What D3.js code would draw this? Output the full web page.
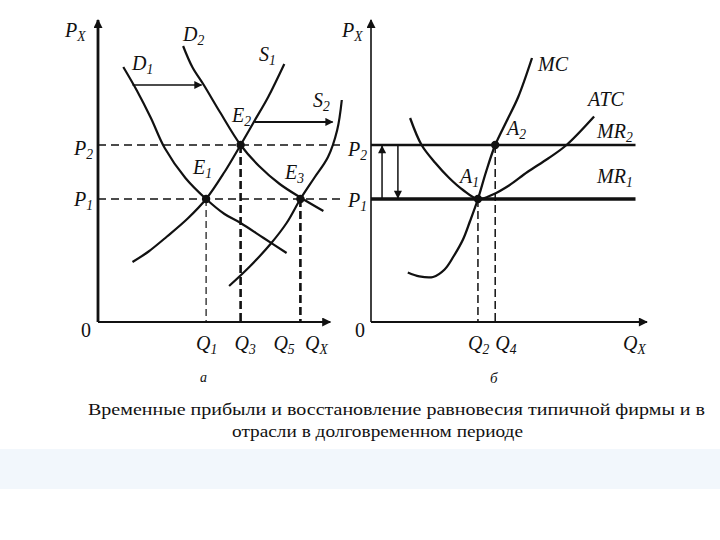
<!DOCTYPE html>
<html><head><meta charset="utf-8">
<script src="https://cdn.jsdelivr.net/npm/d3@7"></script>
<style>
body{margin:0;background:#fff;}
svg{display:block;}
svg text{font-family:'Liberation Serif','Times New Roman',Times,Tinos,'DejaVu Serif','Noto Serif',serif;}
</style></head>
<body>
<svg id="c" width="720" height="540"></svg>
<script>
// ---------- DATA ----------
// Panel "а": industry (market) – quantity Q (0..100), price P (0..100)
const priceLevels = [41, 59];                 // P1, P2
const priceNames = [["P","1"],["P","2"]];
const leftQ = [47, 62, 88];                   // Q1, Q3, Q5
const leftQNames = [["Q","1"],["Q","3"],["Q","5"]];
const leftQLabelShift = [-10, -6, -27];
const leftQDashStyle = ["thin","thick","thick"];
const leftQTop = [41, 59, 41];
const D1 = [[11,85],[17,77],[23,68],[29,58],[38,48],[47,41],[55,36],[62,33],[72,28],[82,23]];
const D2 = [[37,92],[41,85],[46,79],[53,70],[62,59],[70,52],[79,46],[88,41.5],[98,37]];
const S1 = [[15,20],[22,23.5],[30,28.5],[39,34.5],[47,41],[55,50],[62,59],[68,67],[74,75],[81,86]];
const S2 = [[57,12],[66,18.5],[75,26],[82,33],[88,41],[94,48],[100,55],[104,64],[106,74]];
const leftPoints = [[47,41],[62,59],[88,41]]; // E1, E2, E3
const shiftArrows = [[[15,79],[45,79]],[[68,66.7],[102,66.7]]];

// Panel "б": firm
const rightQ = [46.5, 54];                    // Q2, Q4
const rightQNames = [["Q","2"],["Q","4"]];
const rightQLabelShift = [-10, 0];
const rightQTop = [41, 59];
const MC = [[16,16.5],[21,15.2],[27,15],[32,17.5],[36,22],[40,27.5],[43,33.5],[46.5,41],[50,50],[54,59],[59,67],[64,75],[70,88]];
const ATC = [[17,68],[22,59],[28,53],[34,48],[40,44],[46.5,41],[53,42.5],[60,45.5],[68,50],[77,54.5],[85,59],[97,68.5]];
const rightPoints = [[46.5,41],[54,59]];       // A1, A2
const MRend = 115;

const caption = ["Временные прибыли и восстановление равновесия типичной фирмы и в",
                 "отрасли в долговременном периоде"];

// ---------- SCALES ----------
const svg = d3.select("#c");
svg.append("rect").attr("x",0).attr("y",449).attr("width",720).attr("height",40).attr("fill","#f2f7fc");

const y = d3.scaleLinear().domain([0,100]).range([322,22]);
const xL = d3.scaleLinear().domain([0,100]).range([98,328]);
const xR = d3.scaleLinear().domain([0,100]).range([371,601]);

const defs = svg.append("defs");
function marker(id, w, h){
  defs.append("marker").attr("id",id).attr("viewBox","0 0 10 10").attr("refX",9).attr("refY",5)
    .attr("markerWidth",w).attr("markerHeight",h).attr("markerUnits","userSpaceOnUse").attr("orient","auto")
    .append("path").attr("d","M0,0L10,5L0,10Z").attr("fill","#111");
}
marker("ah",14,9);
marker("ahs",12,8);

const curve = d3.line().curve(d3.curveCatmullRom.alpha(0.5));

function label(x, yy, main, sub, size, italic=true){
  const t = svg.append("text").attr("x",x).attr("y",yy).attr("font-size",size).attr("fill","#111")
    .attr("font-style", italic?"italic":"normal");
  t.append("tspan").text(main);
  if(sub) t.append("tspan").attr("font-size",size*0.68).attr("dy",4).text(sub);
  return t;
}

// ---------- AXES ----------
function panel(x, qMax, axisW){
  svg.append("line").attr("x1",x(0)).attr("x2",x(0)).attr("y1",y(0)).attr("y2",y(100)-2)
    .attr("stroke","#111").attr("stroke-width",axisW).attr("marker-end","url(#ah)");
  svg.append("line").attr("x1",x(0)).attr("x2",x(qMax)).attr("y1",y(0)).attr("y2",y(0))
    .attr("stroke","#111").attr("stroke-width",1.8).attr("marker-end","url(#ah)");
}
panel(xL, 101, 2.8);
panel(xR, 120, 1.6);

// ---------- LEFT PANEL ----------
priceLevels.forEach(p=>{
  svg.append("line").attr("x1",xL(0)).attr("x2",xL(107)).attr("y1",y(p)).attr("y2",y(p))
    .attr("stroke","#111").attr("stroke-width",1.4).attr("stroke-dasharray","8,5");
});
leftQ.forEach((q,i)=>{
  const thick = leftQDashStyle[i]==="thick";
  svg.append("line").attr("x1",xL(q)).attr("x2",xL(q)).attr("y1",y(leftQTop[i])).attr("y2",y(0))
    .attr("stroke","#111").attr("stroke-width",thick?2.6:1.2).attr("stroke-dasharray",thick?"8,4":"7,4");
});
[D1,D2,S1,S2].forEach(d=>{
  svg.append("path").attr("d",curve(d.map(p=>[xL(p[0]),y(p[1])])))
    .attr("fill","none").attr("stroke","#111").attr("stroke-width",2.2);
});
shiftArrows.forEach((a,i)=>{
  svg.append("line").attr("x1",xL(a[0][0])).attr("y1",y(a[0][1])).attr("x2",xL(a[1][0])).attr("y2",y(a[1][1]))
    .attr("stroke","#111").attr("stroke-width",i?2:1.3).attr("marker-end","url(#ahs)");
});
leftPoints.forEach(p=>svg.append("circle").attr("cx",xL(p[0])).attr("cy",y(p[1])).attr("r",4.2).attr("fill","#111"));

// ---------- RIGHT PANEL ----------
svg.append("line").attr("x1",xR(0)).attr("x2",xR(MRend)).attr("y1",y(priceLevels[1])).attr("y2",y(priceLevels[1]))
  .attr("stroke","#111").attr("stroke-width",2.4);
svg.append("line").attr("x1",xR(0)).attr("x2",xR(MRend)).attr("y1",y(priceLevels[0])).attr("y2",y(priceLevels[0]))
  .attr("stroke","#111").attr("stroke-width",3.6);
rightQ.forEach((q,i)=>{
  svg.append("line").attr("x1",xR(q)).attr("x2",xR(q)).attr("y1",y(rightQTop[i])).attr("y2",y(0))
    .attr("stroke","#111").attr("stroke-width",1.5).attr("stroke-dasharray","8,4");
});
[MC,ATC].forEach(d=>{
  svg.append("path").attr("d",curve(d.map(p=>[xR(p[0]),y(p[1])])))
    .attr("fill","none").attr("stroke","#111").attr("stroke-width",2.3);
});
svg.append("line").attr("x1",xR(4.8)).attr("x2",xR(4.8)).attr("y1",y(priceLevels[0])).attr("y2",y(priceLevels[1])+1)
  .attr("stroke","#111").attr("stroke-width",1.5).attr("marker-end","url(#ahs)");
svg.append("line").attr("x1",xR(11.7)).attr("x2",xR(11.7)).attr("y1",y(priceLevels[1])).attr("y2",y(priceLevels[0])-1)
  .attr("stroke","#111").attr("stroke-width",1.5).attr("marker-end","url(#ahs)");
rightPoints.forEach(p=>svg.append("circle").attr("cx",xR(p[0])).attr("cy",y(p[1])).attr("r",4.2).attr("fill","#111"));

// ---------- LABELS ----------
const fs = 20;
label(65,37,"P","X",fs);
label(183,41,"D","2",fs);
label(132,70,"D","1",fs);
label(259,61,"S","1",fs);
label(313,107,"S","2",fs);
label(232,122,"E","2",fs);
label(193,174,"E","1",fs);
label(285,179,"E","3",fs);
label(74,155,"P","2",fs);
label(74,206,"P","1",fs);
label(81,337,"0",null,fs,false);
leftQ.forEach((q,i)=>label(xL(q)+leftQLabelShift[i],350,leftQNames[i][0],leftQNames[i][1],fs));
label(305,350,"Q","X",fs);
label(200,382,"а",null,14);

label(342,37,"P","X",fs);
label(348,156,"P","2",fs);
label(348,207,"P","1",fs);
label(355,337,"0",null,fs,false);
label(538,71,"MC",null,fs);
label(588,106,"ATC",null,fs);
label(597,138,"MR","2",fs);
label(597,183,"MR","1",fs);
label(507,135,"A","2",fs);
label(460,183,"A","1",fs);
rightQ.forEach((q,i)=>label(xR(q)+rightQLabelShift[i],350,rightQNames[i][0],rightQNames[i][1],fs));
label(623,350,"Q","X",fs);
label(490,383,"б",null,15);

svg.append("text").attr("x",88).attr("y",415).attr("font-size",16).attr("fill","#111")
  .attr("textLength",617).attr("lengthAdjust","spacingAndGlyphs").text(caption[0]);
svg.append("text").attr("x",232).attr("y",437).attr("font-size",16).attr("fill","#111")
  .attr("textLength",291).attr("lengthAdjust","spacingAndGlyphs").text(caption[1]);
</script>
</body></html>
